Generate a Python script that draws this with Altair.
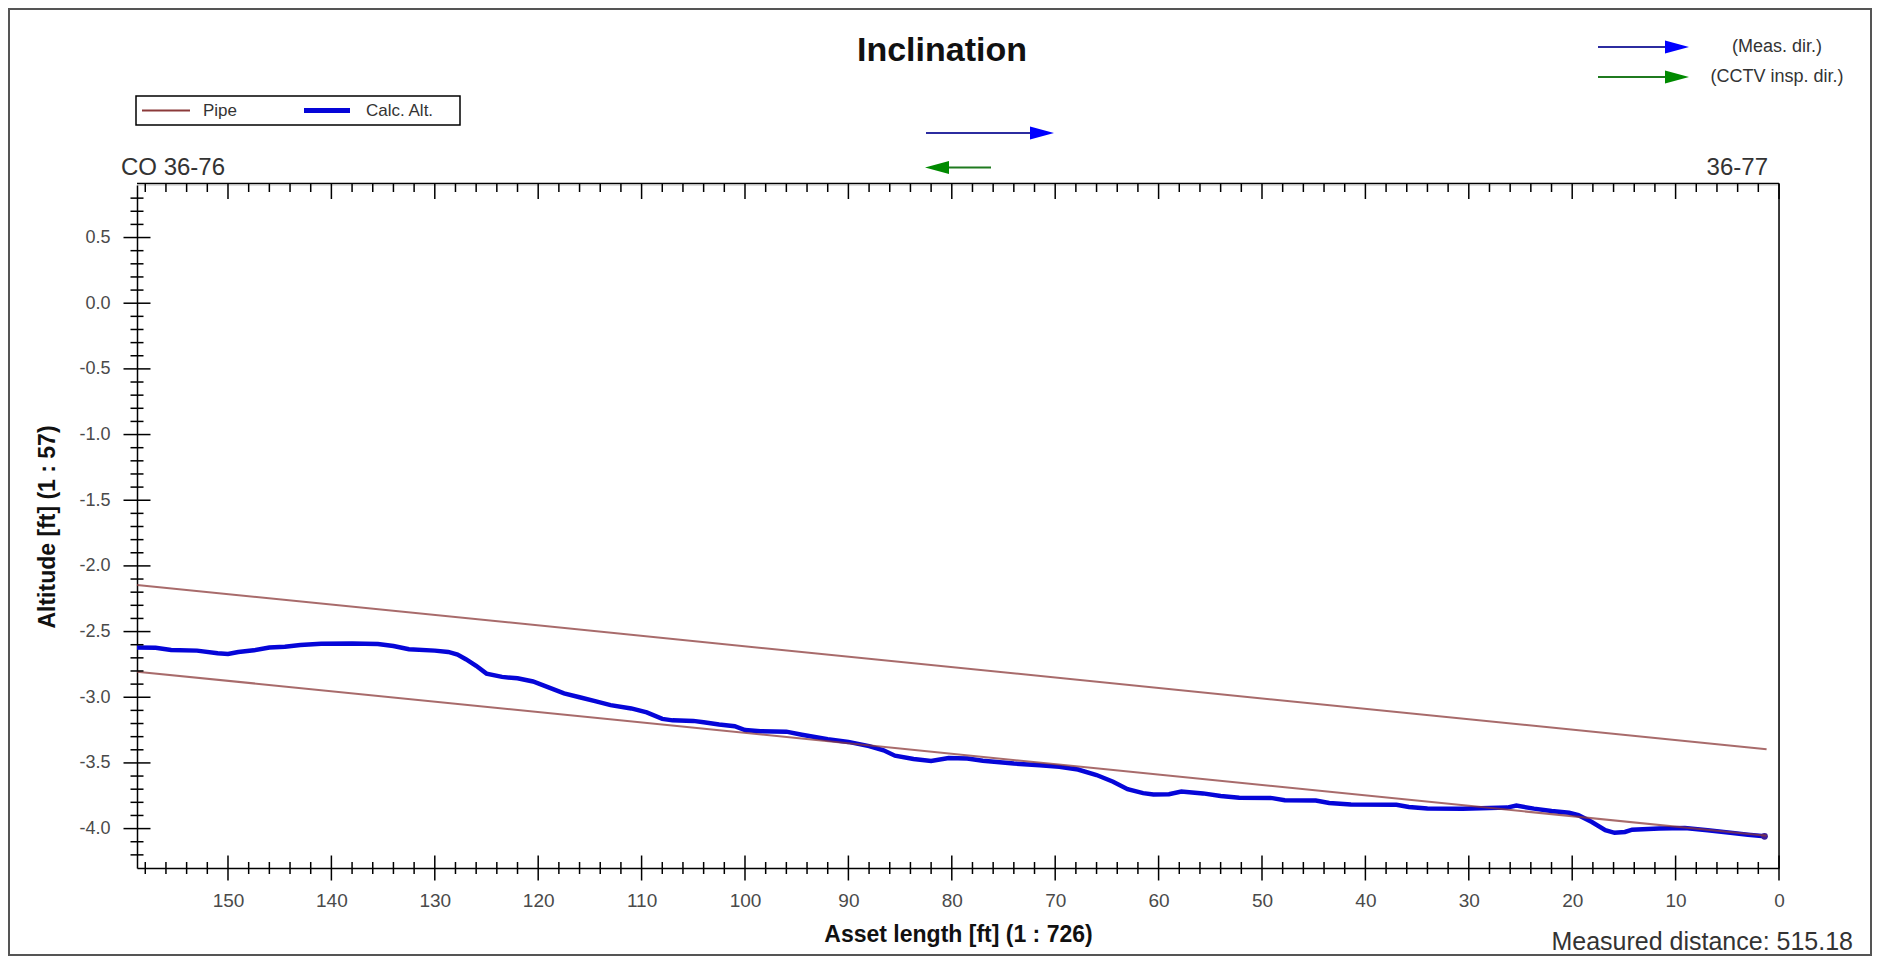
import altair as alt
import pandas as pd

# ---------------- data ----------------
calc_x = [158.8, 157, 155.5, 153, 151, 150, 149, 147.5, 146, 144.5, 143, 141, 138, 135.5, 134,
          132.5, 130, 128.7, 127.8, 127, 126, 125, 123.5, 122, 120.5, 119, 117.5, 116, 114.5,
          113, 111, 109.5, 108, 107, 105, 104, 102.5, 101, 100, 98.5, 96, 94.5, 92, 90, 88,
          86.6, 85.5, 83.7, 82, 80.3, 78.5, 77, 74, 71.5, 69.6, 67.8, 66, 64.4, 63, 61.5,
          60.5, 59, 57.8, 55.7, 54, 52.2, 49, 47.8, 44.8, 43.5, 41.4, 37, 35.8, 34, 30.6,
          26.3, 25.4, 23.7, 22, 20.3, 19.4, 18.1, 16.8, 15.9, 14.9, 14.2, 11.6, 9.1, 6.9,
          4.7, 3, 1.4]
calc_y = [-2.622, -2.624, -2.64, -2.645, -2.665, -2.67, -2.655, -2.643, -2.622, -2.615, -2.603,
          -2.592, -2.59, -2.594, -2.61, -2.635, -2.645, -2.655, -2.675, -2.71, -2.76, -2.82,
          -2.845, -2.856, -2.88, -2.925, -2.97, -3.0, -3.03, -3.06, -3.085, -3.115, -3.165,
          -3.176, -3.18, -3.19, -3.207, -3.22, -3.25, -3.258, -3.262, -3.285, -3.32, -3.34,
          -3.372, -3.404, -3.445, -3.47, -3.485, -3.462, -3.466, -3.484, -3.505, -3.518,
          -3.53, -3.55, -3.592, -3.643, -3.7, -3.73, -3.74, -3.738, -3.718, -3.732, -3.752,
          -3.766, -3.768, -3.784, -3.786, -3.805, -3.817, -3.818, -3.835, -3.847, -3.848,
          -3.84, -3.825, -3.848, -3.866, -3.88, -3.898, -3.95, -4.012, -4.032, -4.026,
          -4.008, -4.0, -3.996, -4.012, -4.032, -4.046, -4.059]

pipe_x = [158.8, 1.2]
pipe_top_y = [-2.145, -3.396]
pipe_bottom_y = [-2.805, -4.055]

x_major = [150, 140, 130, 120, 110, 100, 90, 80, 70, 60, 50, 40, 30, 20, 10, 0]
x_minor = [v for v in range(158, 0, -2) if v % 10 != 0]
y_major = [0.5, 0.0, -0.5, -1.0, -1.5, -2.0, -2.5, -3.0, -3.5, -4.0]
y_minor = [round(v / 10, 1) for v in range(8, -43, -1) if v % 5 != 0]

X_DOMAIN = [0, 158.8]
Y_DOMAIN = [-4.3, 0.9]
W, H = 1642, 683
FONT = "Liberation Sans"
PIPE_COLOR = "#8b3a3a"
CALC_COLOR = "#0505d8"

# ---------------- tables ----------------
calc_df = pd.DataFrame({"x": calc_x, "y": calc_y})
end_df = pd.DataFrame({"x": [calc_x[-1]], "y": [calc_y[-1]]})
pipe_df = pd.DataFrame({
    "x": pipe_x + pipe_x,
    "y": pipe_top_y + pipe_bottom_y,
    "part": ["top"] * len(pipe_x) + ["bottom"] * len(pipe_x),
})
one = pd.DataFrame({"a": [0]})

xs = alt.Scale(domain=X_DOMAIN, reverse=True, nice=False, zero=False)
ys = alt.Scale(domain=Y_DOMAIN, nice=False, zero=False)

x_axis = alt.Axis(
    values=x_major, format="d", ticks=False, tickSize=0, grid=False,
    domain=True, domainColor="black", domainWidth=1.5,
    labelFont=FONT, labelFontSize=19, labelColor="#4a4a4a", labelPadding=23,
    labelFlush=False,
    title="Asset length [ft] (1 : 726)", titleFont=FONT, titleFontSize=23,
    titleFontWeight="bold", titleColor="#111", titleY=66, titleBaseline="middle",
)
y_axis = alt.Axis(
    values=y_major, ticks=False, tickSize=0, grid=False,
    domain=True, domainColor="black", domainWidth=1.5,
    labelExpr="(datum.value < 0 ? '-' : '') + format(abs(datum.value), '.1f')",
    labelFont=FONT, labelFontSize=18, labelColor="#4a4a4a", labelPadding=27,
    title="Altitude [ft] (1 : 57)", titleFont=FONT, titleFontSize=23,
    titleFontWeight="bold", titleColor="#111", titleX=-90, titleBaseline="middle",
)


def X(field):
    return alt.X(field, type="quantitative", scale=xs, axis=x_axis)


def Y(field):
    return alt.Y(field, type="quantitative", scale=ys, axis=y_axis)


calc_line = alt.Chart(calc_df).mark_line(
    color=CALC_COLOR, strokeWidth=4.5, strokeJoin="miter", clip=False
).encode(x=X("x"), y=Y("y"))

end_dot = alt.Chart(end_df).mark_point(
    filled=True, color="#3a1c9c", size=45, opacity=1
).encode(x=X("x"), y=Y("y"))

pipe_lines = alt.Chart(pipe_df).mark_line(
    color=PIPE_COLOR, strokeWidth=2, opacity=0.75
).encode(x=X("x"), y=Y("y"), detail="part:N")


def xticks(values, y0, y1):
    return alt.Chart(pd.DataFrame({"x": values})).mark_rule(
        color="black", strokeWidth=1.5
    ).encode(x=X("x"), y=alt.value(y0), y2=alt.value(y1))


def yticks(values, x0, x1):
    return alt.Chart(pd.DataFrame({"y": values})).mark_rule(
        color="black", strokeWidth=1.5
    ).encode(y=Y("y"), x=alt.value(x0), x2=alt.value(x1))


tick_layers = [
    xticks(x_major, H - 12.5, H + 12.5),
    xticks(x_minor, H - 6, H + 6),
    xticks(x_major, -1.5, 14),
    xticks(x_minor, -1.5, 7),
    yticks(y_major, -13.5, 13.5),
    yticks(y_minor, -6.5, 6.5),
]


def hrule(x0, x1, y, color, width):
    return alt.Chart(one).mark_rule(color=color, strokeWidth=width).encode(
        x=alt.value(x0), x2=alt.value(x1), y=alt.value(y))


frame_layers = [
    hrule(0, W, -1.5, "black", 1.5),
    alt.Chart(one).mark_rule(color="black", strokeWidth=1.5).encode(
        x=alt.value(W), y=alt.value(-1.5), y2=alt.value(H)),
    alt.Chart(one).mark_rect(filled=False, stroke="#555", strokeWidth=2).encode(
        x=alt.value(-128), x2=alt.value(1734), y=alt.value(-176), y2=alt.value(770)),
]


def text(t, x, y, size, align="left", baseline="middle", weight="normal", color="#333"):
    return alt.Chart(one).mark_text(
        text=t, align=align, baseline=baseline, fontSize=size, font=FONT,
        fontWeight=weight, color=color
    ).encode(x=alt.value(x), y=alt.value(y))


RIGHT_HEAD = "M-1,-0.55L1,0L-1,0.55Z"
LEFT_HEAD = "M1,-0.55L-1,0L1,0.55Z"


def head(x, y, shape, color):
    return alt.Chart(one).mark_point(
        shape=shape, filled=True, size=576, color=color, opacity=1, strokeWidth=0
    ).encode(x=alt.value(x), y=alt.value(y))


legend_layers = [
    alt.Chart(one).mark_rect(fill="white", stroke="black", strokeWidth=1.5).encode(
        x=alt.value(-1), x2=alt.value(323), y=alt.value(-89), y2=alt.value(-60)),
    hrule(5, 53, -74.5, PIPE_COLOR, 2),
    text("Pipe", 66, -74.5, 17),
    hrule(167, 213, -74.5, CALC_COLOR, 5),
    text("Calc. Alt.", 229, -74.5, 17),
]

arrow_layers = [
    hrule(1461, 1533, -138, "#2c2ca0", 2),
    head(1540, -138, RIGHT_HEAD, "#0000ff"),
    text("(Meas. dir.)", 1640, -138, 18, align="center"),
    hrule(1461, 1533, -108, "#1f7a1f", 2),
    head(1540, -108, RIGHT_HEAD, "#008a00"),
    text("(CCTV insp. dir.)", 1640, -108, 18, align="center"),
    hrule(789, 898, -52, "#2c2ca0", 2),
    head(905, -52, RIGHT_HEAD, "#0000ff"),
    hrule(808, 854, -17.5, "#1f7a1f", 2),
    head(800, -17.5, LEFT_HEAD, "#008a00"),
]

text_layers = [
    text("Inclination", 805, -134, 34, align="center", weight="bold", color="#111"),
    text("CO 36-76", -16, -10, 24, baseline="alphabetic"),
    text("36-77", 1631, -10, 24, align="right", baseline="alphabetic"),
    text("Measured distance: 515.18", 1716, 765, 25, align="right", baseline="alphabetic"),
]

chart = alt.layer(
    calc_line, *frame_layers, end_dot, pipe_lines, *tick_layers,
    *legend_layers, *arrow_layers, *text_layers
).properties(
    width=W, height=H,
    autosize=alt.AutoSizeParams(type="none"),
    padding={"left": 129, "top": 177, "right": 93, "bottom": 90},
).configure_view(stroke=None).configure(background="white")

chart.save("out.html", embed_options={"renderer": "svg", "actions": False})
